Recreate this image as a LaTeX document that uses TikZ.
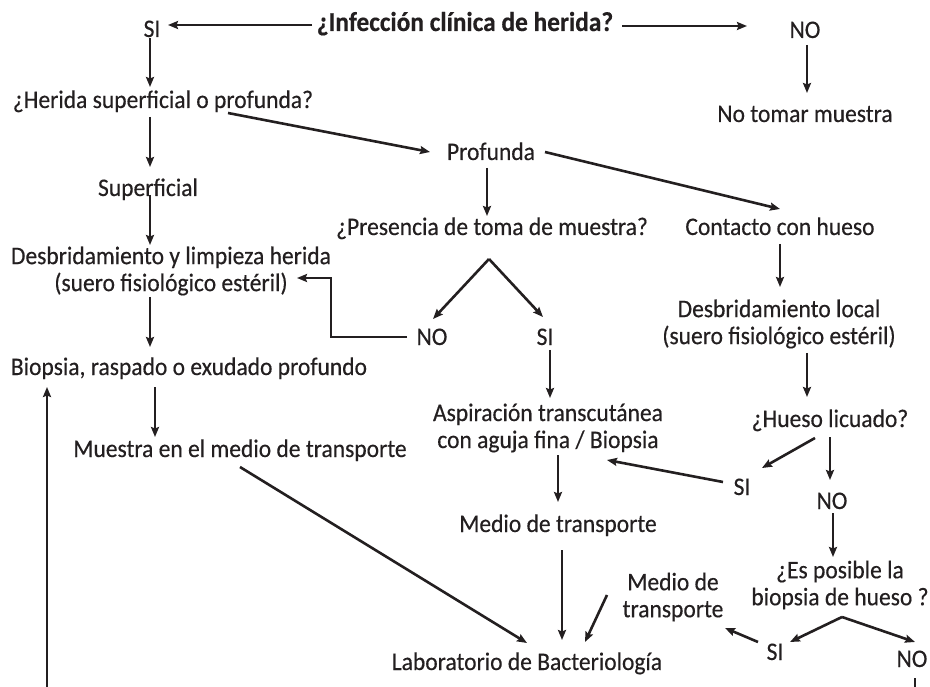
\documentclass[tikz,border=0pt]{standalone}
\usepackage{fontspec}
\setmainfont{Carlito}[FakeStretch=0.93,FakeBold=0.4]
\usetikzlibrary{calc,arrows.meta}
\definecolor{ink}{HTML}{231F20}
\begin{document}
\begin{tikzpicture}[x=1pt,y=-1pt,
  lbl/.style={inner sep=0pt,text=ink,font=\fontsize{25.3}{27}\selectfont,text height=14pt,text depth=0pt,anchor=center},
  lbl2/.style={inner sep=0pt,text=ink,font=\fontsize{25.3}{27}\selectfont,align=center,anchor=center},
  arr/.style={draw=ink,line width=2.6pt,-{Stealth[length=10pt,width=8pt,inset=1.5pt]}},
  ln/.style={draw=ink,line width=2.6pt}]
\useasboundingbox (0,0) rectangle (930,687);
% nodes
\node[lbl,font=\bfseries\fontsize{27.3}{27}\selectfont] (title) at (465,24) {¿Infección clínica de herida?};
\node[lbl] (si1) at (152,30) {SI};
\node[lbl] (no1) at (805,31) {NO};
\node[lbl] (notomar) at (805,115) {No tomar muestra};
\node[lbl] (herida) at (163,101) {¿Herida superficial o profunda?};
\node[lbl] (profunda) at (491,153) {Profunda};
\node[lbl] (superficial) at (148,189) {Superficial};
\node[lbl] (presencia) at (492,228) {¿Presencia de toma de muestra?};
\node[lbl] (contacto) at (780,228) {Contacto con hueso};
\node[lbl2] (desbrid) at (171,271) {Desbridamiento y limpieza herida\\(suero fisiológico estéril)};
\node[lbl2] (desblocal) at (779,324) {Desbridamiento local\\(suero fisiológico estéril)};
\node[lbl] (no2) at (432,338) {NO};
\node[lbl] (si2) at (545,338) {SI};
\node[lbl] (biopsia) at (189,368) {Biopsia, raspado o exudado profundo};
\node[lbl] (hueso) at (830,420) {¿Hueso licuado?};
\node[lbl2] (aspiracion) at (548,428) {Aspiración transcutánea\\con aguja fina / Biopsia};
\node[lbl] (muestra) at (240,450) {Muestra en el medio de transporte};
\node[lbl] (si3) at (742,488) {SI};
\node[lbl] (no3) at (832,502) {NO};
\node[lbl] (medio1) at (558,525) {Medio de transporte};
\node[lbl2] (esposible) at (840,585) {¿Es posible la\\biopsia de hueso ?};
\node[lbl2] (medio2) at (673,597) {Medio de\\transporte};
\node[lbl] (si4) at (775,653) {SI};
\node[lbl] (no4) at (912,660) {NO};
\node[lbl] (lab) at (527,663) {Laboratorio de Bacteriología};
\coordinate (bot1) at (47,687);
\coordinate (bot2) at (915,687);
\coordinate (apex1) at ($(presencia)+(-3,31)$);
\coordinate (apex2) at ($(esposible)+(2,32)$);
% connectors
\draw[arr] ($(title)+(-153,1)$) -- ($(si1)+(16,-5)$);
\draw[arr] ($(title)+(157,2)$) -- ($(no1)+(-58,-5)$);
\draw[arr] ($(no1)+(2,14)$) -- ($(notomar)+(2,-22)$);
\draw[arr] ($(si1)+(-2,8)$) -- ($(herida)+(-13,-14)$);
\draw[arr] ($(herida)+(65,12)$) -- ($(profunda)+(-61,-1)$);
\draw[arr] ($(herida)+(-13,16)$) -- ($(superficial)+(2,-22)$);
\draw[arr] ($(superficial)+(2,6)$) -- ($(desbrid)+(-21,-26)$);
\draw[arr] ($(desbrid)+(-21,26)$) -- ($(biopsia)+(-39,-21)$);
\draw[arr] ($(profunda)+(-4,15)$) -- ($(presencia)+(-5,-12)$);
\draw[arr] ($(profunda)+(54,-1)$) -- ($(contacto)+(0,-19)$);
\draw[arr] ($(contacto)+(0,16)$) -- ($(desblocal)+(1,-37)$);
\draw[arr] (apex1) -- ($(no2)+(1,-19)$);
\draw[arr] (apex1) -- ($(si2)+(-2,-21)$);
\draw[arr] ($(no2)+(-25,-1)$) -- ++(-76,0) |- ($(desbrid)+(126,7)$);
\draw[arr] ($(si2)+(5,12)$) -- ($(aspiracion)+(2,-30)$);
\draw[arr] ($(desblocal)+(28,29)$) -- ($(hueso)+(-23,-23)$);
\draw[arr] ($(hueso)+(-15,18)$) -- ($(si3)+(20,-20)$);
\draw[arr] ($(hueso)+(0,17)$) -- ($(no3)+(-2,-22)$);
\draw[arr] ($(si3)+(-19,-6)$) -- ($(aspiracion)+(59,32)$);
\draw[arr] ($(aspiracion)+(10,27)$) -- ($(medio1)+(0,-23)$);
\draw[arr] ($(medio1)+(4,25)$) -- ($(lab)+(35,-23)$);
\draw[arr] ($(muestra)+(0,17)$) -- ($(lab)+(0,-20)$);
\draw[arr] ($(biopsia)+(-34,19)$) -- ($(muestra)+(-85,-13)$);
\draw[arr] ($(medio2)+(-66,-2)$) -- ($(lab)+(58,-21)$);
\draw[arr] ($(no3)+(1,11)$) -- ($(esposible)+(-7,-28)$);
\draw[arr] (apex2) -- ($(si4)+(15,-11)$);
\draw[arr] (apex2) -- ($(no4)+(3,-18)$);
\draw[arr] ($(si4)+(-17,-11)$) -- ($(medio2)+(52,31)$);
\draw[ln] ($(no4)+(3,18)$) -- (bot2);
\draw[arr] (bot1) -- ($(biopsia)+(-142,19)$);
\end{tikzpicture}
\end{document}
